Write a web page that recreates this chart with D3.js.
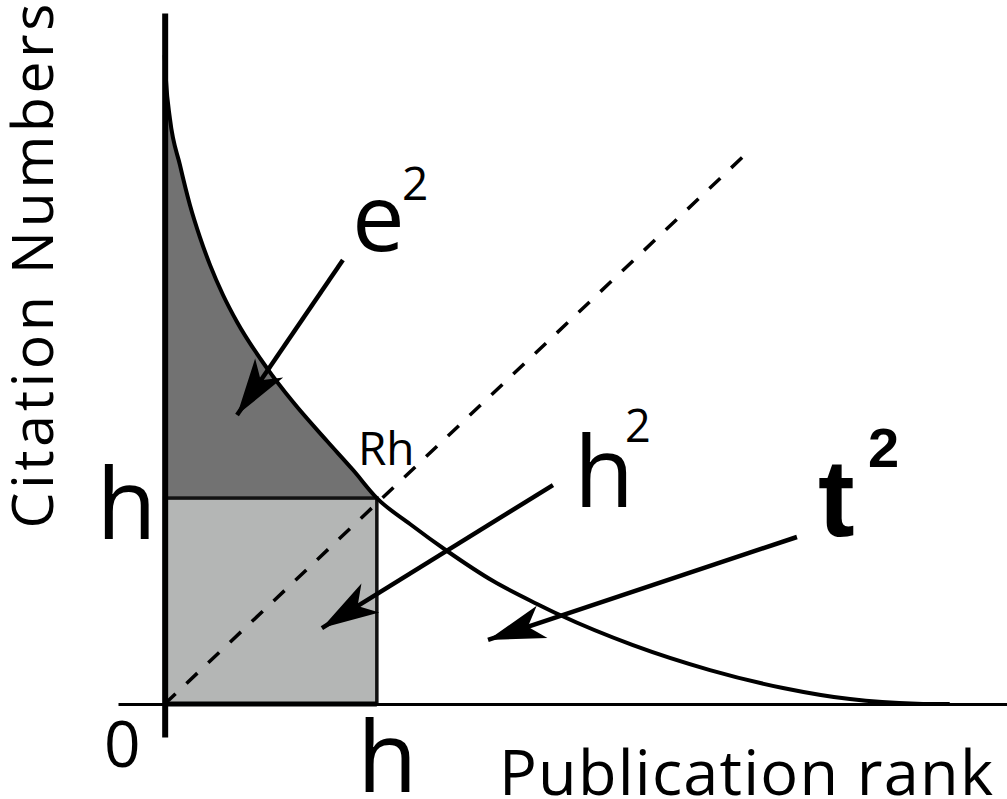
<!DOCTYPE html>
<html>
<head>
<meta charset="utf-8">
<script src="https://cdn.jsdelivr.net/npm/d3@7"></script>
<style>
  body { margin: 0; background: #fff; }
  svg { display: block; }
</style>
</head>
<body>
<svg id="plot"></svg>
<script>
// chart values (publication rank vs citations)
var rankX  = [0, 0.06, 0.25, 0.72, 1.19, 1.66, 2.14, 2.75, 3.41, 4.82, 6.05, 7.65, 8.88, 10,
              11.56, 13.31, 15.48, 17.55, 18.63, 22.07, 25.70, 29.14, 32.30, 35.46, 37.0];
var citeY  = [31.5, 30.3, 28.4, 26.17, 24.23, 22.67, 21.31, 19.86, 18.55, 16.31, 14.66, 12.77, 11.36, 10,
              8.74, 7.43, 5.97, 4.86, 4.32, 2.86, 1.65, 0.78, 0.24, 0.02, 0];
var hValue = 10;
var diagEnd = [27.49, 26.8];

// annotation labels and arrows (data units)
var labelText = ["e", "2", "h", "2", "t", "2", "Rh"];
var labelX    = [8.83, 11.18, 19.29, 21.69, 30.79, 33.15, 9.11];
var labelY    = [22.0, 24.47, 9.57, 12.72, 8.16, 11.51, 11.61];
var labelSize = [94, 46, 98, 45, 110, 56, 46];
var labelBold = [false, false, false, false, true, true, false];

var arrowFrom = [[8.40, 21.56], [18.30, 10.63], [29.80, 8.11]];
var arrowTo   = [[3.41, 14.03], [7.41, 3.69], [15.24, 3.11]];

var w = 1007;
var h = 799;

var x = d3.scaleLinear().domain([-2.2, 39.7]).range([118, 1007]);
var y = d3.scaleLinear().domain([-1.6, 33.55]).range([737, 13]);

var svg = d3.select("#plot").attr("width", w).attr("height", h);

var curve = rankX.map(function(d, i) { return [d, citeY[i]]; });

// dark region above h under the curve
var upper = curve.filter(function(d) { return d[0] <= hValue; });
svg.append("path")
  .datum(upper)
  .attr("fill", "#727272")
  .attr("d", d3.area()
     .x(function(d) { return x(d[0]); })
     .y0(y(hValue))
     .y1(function(d) { return y(d[1]); })
     .curve(d3.curveMonotoneX));

// h x h square
svg.append("rect")
  .attr("x", x(0))
  .attr("y", y(hValue))
  .attr("width", x(hValue) - x(0))
  .attr("height", y(0) - y(hValue))
  .attr("fill", "#b4b6b5")
  .attr("stroke", "#111")
  .attr("stroke-width", 3.5);

svg.append("line")
  .attr("x1", x(0)).attr("x2", x(hValue))
  .attr("y1", y(0)).attr("y2", y(0))
  .attr("stroke", "#000")
  .attr("stroke-width", 5);

// dashed diagonal
svg.append("line")
  .attr("x1", x(0)).attr("y1", y(0))
  .attr("x2", x(diagEnd[0])).attr("y2", y(diagEnd[1]))
  .attr("stroke", "#000")
  .attr("stroke-width", 3.5)
  .attr("stroke-dasharray", "15,15");

// citation curve
svg.append("path")
  .datum(curve)
  .attr("fill", "none")
  .attr("stroke", "#000")
  .attr("stroke-width", 4)
  .attr("d", d3.line()
     .x(function(d) { return x(d[0]); })
     .y(function(d) { return y(d[1]); })
     .curve(d3.curveMonotoneX));

// axes
var xAxis = d3.axisBottom(x)
  .tickValues([0, hValue])
  .tickFormat(function(d) { return d === 0 ? "0" : "h"; })
  .tickSize(0)
  .tickPadding(18)
  .tickSizeOuter(0);

var yAxis = d3.axisLeft(y)
  .tickValues([hValue])
  .tickFormat(function() { return "h"; })
  .tickSize(0)
  .tickPadding(8)
  .tickSizeOuter(0);

var gx = svg.append("g")
  .attr("transform", "translate(0," + y(0) + ")")
  .call(xAxis);
gx.select(".domain").attr("stroke-width", 3);
gx.selectAll("text")
  .attr("font-family", "Open Sans")
  .attr("fill", "#000")
  .attr("font-size", function(d) { return d === 0 ? 64 : 98; })
  .attr("dx", function(d) { return d === 0 ? -43 : 10; });

var gy = svg.append("g")
  .attr("transform", "translate(" + x(0) + ",0)")
  .call(yAxis);
gy.select(".domain").attr("stroke-width", 6);
gy.selectAll("text")
  .attr("font-family", "Open Sans")
  .attr("fill", "#000")
  .attr("font-size", 98)
  .attr("dy", "0.41em");

// axis titles
svg.append("text")
  .attr("transform", "translate(53,266) rotate(-90)")
  .attr("text-anchor", "middle")
  .attr("font-family", "Open Sans")
  .attr("font-size", 57)
  .attr("textLength", 525)
  .attr("lengthAdjust", "spacing")
  .text("Citation Numbers");

svg.append("text")
  .attr("x", 499)
  .attr("y", 795)
  .attr("font-family", "Open Sans")
  .attr("font-size", 63)
  .attr("textLength", 494)
  .attr("lengthAdjust", "spacing")
  .text("Publication rank");

// arrowhead
svg.append("defs").append("marker")
  .attr("id", "head")
  .attr("markerUnits", "userSpaceOnUse")
  .attr("viewBox", "-60 -20 62 40")
  .attr("markerWidth", 62)
  .attr("markerHeight", 40)
  .attr("refX", 0)
  .attr("refY", 0)
  .attr("orient", "auto")
  .append("path")
  .attr("d", "M0,0 L-57,-17 L-42,0 L-57,17 Z")
  .attr("fill", "#000");

svg.selectAll(".arrow")
  .data(arrowFrom)
  .enter()
  .append("line")
  .attr("class", "arrow")
  .attr("x1", function(d) { return x(d[0]); })
  .attr("y1", function(d) { return y(d[1]); })
  .attr("x2", function(d, i) { return x(arrowTo[i][0]); })
  .attr("y2", function(d, i) { return y(arrowTo[i][1]); })
  .attr("stroke", "#000")
  .attr("stroke-width", 4.5)
  .attr("marker-end", "url(#head)");

// labels
svg.selectAll(".lbl")
  .data(labelText)
  .enter()
  .append("text")
  .attr("class", "lbl")
  .attr("x", function(d, i) { return x(labelX[i]); })
  .attr("y", function(d, i) { return y(labelY[i]); })
  .attr("font-family", function(d, i) { return labelBold[i] ? "Liberation Sans" : "Open Sans"; })
  .attr("font-weight", function(d, i) { return labelBold[i] ? "bold" : "normal"; })
  .attr("font-size", function(d, i) { return labelSize[i]; })
  .text(function(d) { return d; });
</script>
</body>
</html>
